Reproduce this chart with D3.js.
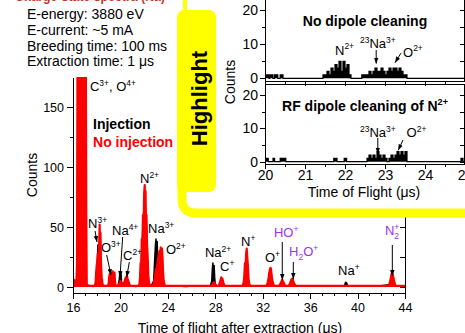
<!DOCTYPE html>
<html>
<head>
<meta charset="utf-8">
<script src="https://cdn.jsdelivr.net/npm/d3@7"></script>
<style>
html, body { margin: 0; padding: 0; background: #fff; overflow: hidden; }
svg { display: block; font-family: Arial, "Liberation Sans", sans-serif; }
</style>
</head>
<body>
<svg id="chart" width="465" height="333"></svg>
<script>
// ---- data (time of flight in us, counts) ----
const injection = [
  [16.0,0.5],[16.2,1],[16.3,2],[16.36,15],[16.42,200],[16.7,200],[16.76,160],[16.8,200],[17.0,200],[17.06,30],[17.12,2],
  [17.4,1],[17.7,0.5],[17.9,2],[18.0,8],[18.05,20],[18.1,35],[18.15,28],[18.2,32],[18.25,15],[18.3,8],[18.4,2],[18.6,1],
  [18.9,1],[19.0,2],[19.1,6],[19.2,9],[19.3,10],[19.4,5],[19.5,2],[19.6,1],[19.8,1],[19.9,6],[19.95,12],[20.0,8],[20.05,11],
  [20.1,4],[20.2,2],[20.3,3],[20.4,6],[20.5,8],[20.6,5],[20.7,2],[20.9,1],[21.3,0.5],[21.6,1],[21.7,10],[21.8,30],[21.9,50],
  [22.0,70],[22.05,75],[22.1,68],[22.2,45],[22.3,15],[22.4,2],[22.6,1],[22.8,5],[22.85,15],[22.9,25],[22.95,35],[23.0,40],
  [23.05,30],[23.1,38],[23.15,20],[23.2,25],[23.25,15],[23.3,28],[23.35,30],[23.4,22],[23.45,29],[23.5,15],[23.6,5],[23.7,1],
  [24.5,1],[25.5,0.5],[26.5,1],[27.3,1],[27.6,1],[27.7,5],[27.75,15],[27.8,20],[27.85,12],[27.9,18],[27.95,8],[28.0,2],
  [28.2,1],[28.4,2],[28.5,6],[28.6,4],[28.7,1],[29.5,1],[30.3,1],[30.5,5],[30.6,20],[30.65,25],[30.7,18],[30.8,3],[30.9,1],
  [31.8,1],[32.4,1],[32.5,4],[32.6,12],[32.7,10],[32.8,3],[32.9,1],[34.0,1],[35.5,1],[37.0,1],[38.5,1],[38.9,1],[38.95,3],
  [39.0,4],[39.1,3],[39.15,1],[40.5,1],[42.0,1],[42.8,2],[42.9,6],[43.0,5],[43.1,1],[44,1]
];
const noInjection = [
  [16.0,2],[16.1,6],[16.2,4],[16.28,1],[16.34,20],[16.38,200],[16.72,200],[16.76,125],[16.8,200],[17.08,200],[17.12,60],
  [17.16,3],[17.2,1],[17.5,1],[17.8,1],[17.9,3],[17.95,12],[18.0,18],[18.05,22],[18.1,28],[18.15,25],[18.2,35],[18.25,52],
  [18.28,30],[18.32,45],[18.36,20],[18.42,8],[18.5,2],[18.6,1],[18.9,1],[19.0,2],[19.05,8],[19.1,11],[19.15,6],[19.2,12],
  [19.3,10],[19.35,13],[19.4,8],[19.5,12],[19.55,4],[19.6,1],[19.8,1],[19.9,3],[20.0,5],[20.1,3],[20.2,2],[20.3,1],[20.35,5],
  [20.45,8],[20.5,6],[20.55,9],[20.6,7],[20.7,4],[20.8,1],[21.2,1],[21.5,1],[21.6,2],[21.65,8],[21.7,20],[21.75,15],[21.8,40],
  [21.85,35],[21.9,60],[21.95,50],[22.0,78],[22.05,85],[22.08,70],[22.12,80],[22.15,55],[22.2,60],[22.25,35],[22.3,25],
  [22.35,10],[22.4,4],[22.5,1],[22.7,1],[22.8,3],[22.9,8],[23.0,15],[23.05,10],[23.1,18],[23.2,25],[23.25,28],[23.3,30],
  [23.35,26],[23.4,33],[23.45,31],[23.5,32],[23.55,25],[23.6,12],[23.65,5],[23.75,1],[24.5,1],[25.5,1],[26.5,1],[27.5,1],
  [27.7,1],[27.8,3],[27.9,4],[28.0,2],[28.1,1],[28.3,1],[28.4,4],[28.45,6],[28.5,8],[28.55,5],[28.6,7],[28.7,3],[28.8,1],
  [29.5,1],[30.3,1],[30.4,4],[30.45,10],[30.5,20],[30.55,15],[30.6,28],[30.65,32],[30.7,25],[30.75,18],[30.8,8],[30.85,3],
  [30.95,1],[31.8,1],[32.3,1],[32.4,3],[32.5,8],[32.55,12],[32.6,14],[32.65,16],[32.7,15],[32.75,10],[32.8,6],[32.9,2],
  [33.0,1],[33.4,1],[33.5,3],[33.6,5],[33.65,6],[33.7,5],[33.8,3],[33.9,1],[34.2,1],[34.3,3],[34.4,6],[34.5,7],[34.55,6],
  [34.6,4],[34.7,2],[34.8,1],[36.0,1],[37.5,1],[39.0,1],[40.5,1],[42.0,1],[42.6,1],[42.7,3],[42.8,7],[42.85,10],[42.9,12],
  [42.95,11],[43.0,9],[43.1,4],[43.2,1],[44,1]
];
// inset histograms (step data)
const noCleaning = [
  [20.0,1],[20.1,0],[20.12,1],[20.2,0],[20.24,1],[20.32,0],[20.38,1],[20.45,0],
  [21.45,1],[21.5,1],[21.55,2],[21.6,1],[21.65,3],[21.7,2],[21.75,4],[21.8,3],[21.85,5],[21.9,2],[21.95,5],[22.0,3],
  [22.05,4],[22.1,1],[22.15,0],[22.42,1],[22.5,1],[22.55,1],[22.6,2],[22.65,1],[22.7,2],[22.75,3],[22.8,2],[22.85,2],
  [22.9,3],[22.95,2],[23.0,1],[23.05,2],[23.1,3],[23.15,2],[23.2,3],[23.25,3],[23.3,2],[23.35,3],[23.4,2],[23.45,1],
  [23.5,1],[23.55,0],[25,0]
];
const rfCleaning = [
  [20.0,1],[20.08,0],[20.2,1],[20.24,0],[20.38,1],[20.52,0],[21.72,1],[21.8,0],[21.98,1],[22.04,0],
  [22.55,1],[22.6,2],[22.65,1],[22.7,2],[22.75,1],[22.8,3],[22.85,2],[22.9,1],[22.95,2],[23.0,1],[23.05,0],[23.1,1],
  [23.15,2],[23.2,1],[23.25,2],[23.3,3],[23.35,2],[23.4,3],[23.45,2],[23.5,3],[23.55,0],[24.9,1],[24.95,0],[25,0]
];

const mainXTicks = [16, 20, 24, 28, 32, 36, 40, 44];
const mainYTicks = [0, 50, 100, 150];
const insetXTicks = [20, 21, 22, 23, 24, 25];
const insetYTicks = [0, 10, 20];
const infoLines = ["E-energy: 3880 eV", "E-current: ~5 mA", "Breeding time: 100 ms", "Extraction time: 1 \u03bcs"];

// peak labels: [t, counts, parts, color]
const peakLabels = [
  [17.43, 163, [["C"],["3+","sup"],[", O"],["4+","sup"]], "#000"],
  [21.65, 86.7, [["N"],["2+","sup"]], "#000"],
  [17.27, 49.2, [["N"],["3+","sup"]], "#000"],
  [18.36, 29.2, [["O"],["3+","sup"]], "#000"],
  [19.29, 43.3, [["Na"],["4+","sup"]], "#000"],
  [20.22, 22.5, [["C"],["2+","sup"]], "#000"],
  [22.33, 45, [["Na"],["3+","sup"]], "#000"],
  [23.84, 27.5, [["O"],["2+","sup"]], "#000"],
  [27.13, 25, [["Na"],["2+","sup"]], "#000"],
  [28.4, 13.3, [["C"],["+","sup"]], "#000"],
  [30.17, 34.2, [["N"],["+","sup"]], "#000"],
  [32.19, 20.8, [["O"],["+","sup"]], "#000"],
  [32.95, 41.7, [["HO"],["+","sup"]], "#9933ee"],
  [34.22, 25.8, [["H"],["2","sub"],["O"],["+","sup"]], "#9933ee"],
  [38.35, 10, [["Na"],["+","sup"]], "#000"],
  [42.31, 43.3, [["N"],["+","sup"],["2","stack"]], "#9933ee"]
];
// arrows: [t0, c0, t1, c1]
const peakArrows = [
  [17.86, 46.7, 18.02, 37.5], [18.84, 26.7, 19.2, 10], [20.19, 41.7, 19.96, 8.3], [20.75, 20.8, 20.53, 8.3],
  [33.65, 37.5, 33.65, 5.8], [34.58, 20.8, 34.58, 6.7], [42.93, 35, 42.93, 9.2]
];
const legendItems = [["Injection", "#000", 131.7], ["No injection", "#ff0000", 116.7]];

const svg = d3.select("#chart");
const defs = svg.append("defs");
defs.append("marker").attr("id", "arr").attr("viewBox", "0 0 8 6")
  .attr("refX", 8).attr("refY", 3).attr("markerWidth", 6).attr("markerHeight", 5)
  .attr("markerUnits", "userSpaceOnUse").attr("orient", "auto")
  .append("path").attr("d", "M0,0L8,3L0,6Z").attr("fill", "#000");

function rich(g, x, y, parts, size, color, weight) {
  const t = g.append("text").attr("x", x).attr("y", y).attr("font-size", size)
    .attr("fill", color).attr("font-weight", weight || "normal");
  let shift = 0, cx = x, supX = x;
  parts.forEach(([s, k]) => {
    const target = (k === "sup") ? -0.42 * size : (k === "sub" || k === "stack") ? 0.3 * size : 0;
    const ts = t.append("tspan").attr("dy", target - shift).attr("font-size", k ? size * 0.65 : size).text(s);
    if (k === "stack") ts.attr("x", supX);
    if (k === "sup") supX = cx;
    cx += ts.node().getComputedTextLength();
    shift = target;
  });
  return t;
}

// red heading, cut off at the top edge as in the source
svg.append("text").attr("x", 15).attr("y", 1).attr("font-size", 15).attr("font-weight", "bold")
  .attr("fill", "#c0392b").attr("textLength", 150).attr("lengthAdjust", "spacingAndGlyphs")
  .text("Charge-state spectra (Na)");

// info lines
infoLines.forEach((s, i) => {
  svg.append("text").attr("x", 27).attr("y", 19 + i * 15.8).attr("font-size", 14).text(s);
});

// ---- main chart ----
const x = d3.scaleLinear().domain([16, 44]).range([73, 405]);
const y = d3.scaleLinear().domain([-5, 175]).range([293, 77]);

defs.append("clipPath").attr("id", "mainclip").append("rect")
  .attr("x", 73).attr("y", 77).attr("width", 332).attr("height", 216);

const area = d3.area().x(d => x(d[0])).y0(y(0)).y1(d => y(d[1]));
const line = d3.line().x(d => x(d[0])).y(d => y(d[1]));
const plot = svg.append("g").attr("clip-path", "url(#mainclip)");
[[injection, "#000", 1.5], [noInjection, "#ff0000", 2.2]].forEach(([data, col, w]) => {
  plot.append("path").datum(data).attr("d", area).attr("fill", col);
  plot.append("path").datum(data).attr("d", line).attr("fill", "none").attr("stroke", col)
    .attr("stroke-width", w).attr("stroke-linejoin", "round");
});

function styleAxis(g, fs) {
  g.attr("font-family", null).attr("font-size", fs);
  g.selectAll("line,path").attr("stroke", "#000").attr("shape-rendering", "crispEdges");
  g.selectAll("text").attr("fill", "#000");
}
// bottom
svg.append("g").attr("transform", `translate(0,${y(-5)})`)
  .call(d3.axisBottom(x).tickValues(d3.range(16, 45, 1)).tickSize(3).tickFormat(""))
  .call(g => g.select(".domain").remove()).call(styleAxis, 12.5);
svg.append("g").attr("transform", `translate(0,${y(-5)})`)
  .call(d3.axisBottom(x).tickValues(mainXTicks).tickSize(6).tickSizeOuter(0).tickPadding(4))
  .call(styleAxis, 12.5);
// left
svg.append("g").attr("transform", `translate(${x(16)},0)`)
  .call(d3.axisLeft(y).tickValues([25, 75, 125]).tickSize(3).tickFormat(""))
  .call(g => g.select(".domain").remove()).call(styleAxis, 12.5);
svg.append("g").attr("transform", `translate(${x(16)},0)`)
  .call(d3.axisLeft(y).tickValues(mainYTicks).tickSize(6).tickSizeOuter(0).tickPadding(3))
  .call(styleAxis, 12.5);
// right (inward ticks)
svg.append("g").attr("transform", `translate(${x(44)},0)`)
  .call(d3.axisLeft(y).tickValues([0, 25, 50, 75, 100, 125, 150]).tickSize(5).tickSizeOuter(0).tickFormat(""))
  .call(styleAxis, 12.5);

svg.append("text").attr("transform", "translate(37,175) rotate(-90)").attr("text-anchor", "middle")
  .attr("font-size", 14).text("Counts");
svg.append("text").attr("x", 240).attr("y", 333).attr("text-anchor", "middle")
  .attr("font-size", 14).text("Time of flight after extraction (\u03bcs)");

peakLabels.forEach(([t, c, parts, col]) => rich(svg, x(t), y(c), parts, 13, col));
peakArrows.forEach(([t0, c0, t1, c1]) => {
  svg.append("line").attr("x1", x(t0)).attr("y1", y(c0)).attr("x2", x(t1)).attr("y2", y(c1))
    .attr("stroke", "#000").attr("stroke-width", 1).attr("marker-end", "url(#arr)");
});
legendItems.forEach(([s, col, c]) => {
  svg.append("text").attr("x", x(17.69)).attr("y", y(c)).attr("font-size", 14)
    .attr("font-weight", "bold").attr("fill", col).text(s);
});

// ---- highlight frame ----
svg.append("path").attr("d", "M182,-5V199Q182,213 196,213H470V-5Z").attr("fill", "#fff");
svg.append("rect").attr("x", 183).attr("y", 0).attr("width", 4).attr("height", 20).attr("fill", "#ffff00");
svg.append("path").attr("d", "M182,180V199Q182,213 196,213H470").attr("fill", "none")
  .attr("stroke", "#ffff00").attr("stroke-width", 9);

// ---- inset ----
const xi = d3.scaleLinear().domain([20, 25]).range([265, 465]);
const panels = [
  { data: noCleaning, y: d3.scaleLinear().domain([-0.8, 23.3]).range([81, -1]), labels: false,
    title: [["No dipole cleaning"]],
    notes: [[21.75, 6.9, [["N"],["2+","sup"]]], [22.375, 8.9, [["23","sup"],["Na",""],["3+","sup"]]], [23.45, 6.3, [["O"],["2+","sup"]]]],
    arrows: [[22.78, 8.3, 22.78, 4.3], [23.4, 7.4, 23.25, 4.6]] },
  { data: rfCleaning, y: d3.scaleLinear().domain([-0.7, 23.3]).range([164, 84]), labels: true,
    title: [["RF dipole cleaning of N"],["2+","sup"]],
    notes: [[22.375, 7.4, [["23","sup"],["Na",""],["3+","sup"]]], [23.54, 7.4, [["O"],["2+","sup"]]]],
    arrows: [[22.82, 7.1, 22.82, 2.4], [23.45, 6.5, 23.33, 3.4]] }
];
panels.forEach((p, i) => {
  const yi = p.y;
  const [yb, yt] = yi.range();
  const ar = d3.area().curve(d3.curveStepAfter).x(d => xi(d[0])).y0(yi(0)).y1(d => yi(d[1]));
  const ln = d3.line().curve(d3.curveStepAfter).x(d => xi(d[0])).y(d => yi(d[1]));
  svg.append("path").datum(p.data).attr("d", ar).attr("fill", "#000");
  svg.append("path").datum(p.data).attr("d", ln).attr("fill", "none").attr("stroke", "#000").attr("stroke-width", 1.2);
  svg.append("rect").attr("x", xi(20)).attr("y", yt).attr("width", xi(25) - xi(20) - 1).attr("height", yb - yt)
    .attr("fill", "none").attr("stroke", "#000").attr("shape-rendering", "crispEdges");
  svg.append("g").attr("transform", `translate(${xi(20)},0)`)
    .call(d3.axisLeft(yi).tickValues([5, 15]).tickSize(3).tickFormat(""))
    .call(g => g.select(".domain").remove()).call(styleAxis, 14);
  svg.append("g").attr("transform", `translate(${xi(20)},0)`)
    .call(d3.axisLeft(yi).tickValues(insetYTicks).tickSize(5).tickPadding(2))
    .call(g => g.select(".domain").remove()).call(styleAxis, 14);
  svg.append("g").attr("transform", `translate(${xi(25) - 1},0)`)
    .call(d3.axisLeft(yi).tickValues([0, 5, 10, 15, 20]).tickSize(4).tickFormat(""))
    .call(g => g.select(".domain").remove()).call(styleAxis, 14);
  svg.append("g").attr("transform", `translate(0,${yb})`)
    .call(d3.axisBottom(xi).tickValues(d3.range(20.5, 25, 1)).tickSize(3).tickFormat(""))
    .call(g => g.select(".domain").remove()).call(styleAxis, 14);
  svg.append("g").attr("transform", `translate(0,${yb})`)
    .call(d3.axisBottom(xi).tickValues(insetXTicks).tickSize(5).tickPadding(1).tickFormat(p.labels ? d3.format("d") : ""))
    .call(g => g.select(".domain").remove()).call(styleAxis, 14);
  rich(svg, xi(22.5), yi(15.3), p.title, 14, "#000", "bold").attr("text-anchor", "middle");
  p.notes.forEach(([t, c, parts]) => rich(svg, xi(t), yi(c), parts, 13, "#000"));
  p.arrows.forEach(([t0, c0, t1, c1]) => {
    svg.append("line").attr("x1", xi(t0)).attr("y1", yi(c0)).attr("x2", xi(t1)).attr("y2", yi(c1))
      .attr("stroke", "#000").attr("stroke-width", 1).attr("marker-end", "url(#arr)");
  });
});
svg.append("text").attr("transform", "translate(235,82) rotate(-90)").attr("text-anchor", "middle")
  .attr("font-size", 14).text("Counts");
svg.append("text").attr("x", 364).attr("y", 197).attr("text-anchor", "middle")
  .attr("font-size", 14).text("Time of Flight (\u03bcs)");

// yellow tab
svg.append("rect").attr("x", 177).attr("y", 10).attr("width", 39).attr("height", 182).attr("rx", 7)
  .attr("fill", "#ffff00");
svg.append("text").attr("transform", "translate(207,98.5) rotate(-90)").attr("text-anchor", "middle")
  .attr("font-size", 22).attr("font-weight", "bold").text("Highlight");
</script>
</body>
</html>
